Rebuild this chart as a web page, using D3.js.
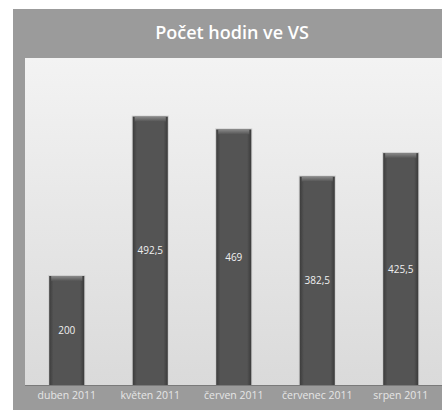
<!DOCTYPE html>
<meta charset="utf-8">
<style>
body { margin: 0; background: #fff; }
text { font-family: "Open Sans", "Liberation Sans", sans-serif; }
</style>
<svg width="442" height="410"></svg>
<script src="https://d3js.org/d3.v7.min.js"></script>
<script>

var months = ["duben 2011", "květen 2011", "červen 2011", "červenec 2011", "srpen 2011"];
var hours = [200, 492.5, 469, 382.5, 425.5];
var labels = ["200", "492,5", "469", "382,5", "425,5"];

var svg = d3.select("svg");

var plot = { left: 25, top: 58, right: 442.5, bottom: 385 };

var x = d3.scaleBand()
    .domain(months)
    .range([plot.left, plot.right])
    .paddingInner(0.58)
    .paddingOuter(0.29);

var y = d3.scaleLinear()
    .domain([0, 600])
    .range([plot.bottom, plot.top]);

var defs = svg.append("defs");

var bg = defs.append("linearGradient").attr("id", "bg")
    .attr("x1", 0).attr("y1", 0).attr("x2", 0).attr("y2", 1);
bg.append("stop").attr("offset", "0%").attr("stop-color", "#f3f3f3");
bg.append("stop").attr("offset", "100%").attr("stop-color", "#dadada");

var bar = defs.append("linearGradient").attr("id", "bar")
    .attr("x1", 0).attr("y1", 0).attr("x2", 1).attr("y2", 0);
bar.append("stop").attr("offset", "0%").attr("stop-color", "#3c3c3c");
bar.append("stop").attr("offset", "12%").attr("stop-color", "#545454");
bar.append("stop").attr("offset", "88%").attr("stop-color", "#545454");
bar.append("stop").attr("offset", "100%").attr("stop-color", "#3a3a3a");

var cap = defs.append("linearGradient").attr("id", "cap")
    .attr("x1", 0).attr("y1", 0).attr("x2", 0).attr("y2", 1);
cap.append("stop").attr("offset", "0%").attr("stop-color", "#8a8a8a");
cap.append("stop").attr("offset", "100%").attr("stop-color", "#545454");

// outer panel
svg.append("rect")
    .attr("x", 13).attr("y", 9)
    .attr("width", 442 - 13).attr("height", 410 - 9)
    .attr("fill", "#9b9b9b");

svg.append("text")
    .attr("x", 232).attr("y", 39)
    .attr("text-anchor", "middle")
    .attr("fill", "#fff")
    .attr("font-size", 18)
    .attr("font-weight", 600)
    .text("Počet hodin ve VS");

// plot area
svg.append("rect")
    .attr("x", plot.left).attr("y", plot.top)
    .attr("width", plot.right - plot.left).attr("height", plot.bottom - plot.top)
    .attr("fill", "url(#bg)");

svg.append("line")
    .attr("x1", plot.left).attr("x2", plot.right)
    .attr("y1", plot.bottom + 0.5).attr("y2", plot.bottom + 0.5)
    .attr("stroke", "#7a7a7a");

var g = svg.append("g")
  .selectAll("g")
  .data(hours)
  .enter().append("g");

g.append("rect")
    .attr("x", function(d, i) { return x(months[i]) - 1; })
    .attr("y", function(d) { return y(d) - 1; })
    .attr("width", x.bandwidth() + 2)
    .attr("height", function(d) { return y(0) - y(d) + 1; })
    .attr("fill", "#cfcfcf");

g.append("rect")
    .attr("x", function(d, i) { return x(months[i]); })
    .attr("y", function(d) { return y(d); })
    .attr("width", x.bandwidth())
    .attr("height", function(d) { return y(0) - y(d); })
    .attr("fill", "url(#bar)");

g.append("rect")
    .attr("x", function(d, i) { return x(months[i]) + 2; })
    .attr("y", function(d) { return y(d); })
    .attr("width", x.bandwidth() - 4)
    .attr("height", 5)
    .attr("fill", "url(#cap)");

g.append("text")
    .attr("x", function(d, i) { return x(months[i]) + x.bandwidth() / 2; })
    .attr("y", function(d) { return (y(d) + y(0)) / 2 + 3.5; })
    .attr("text-anchor", "middle")
    .attr("fill", "#f0f0f0")
    .attr("font-size", 10)
    .text(function(d, i) { return labels[i]; });

svg.append("g")
  .selectAll("text")
  .data(months)
  .enter().append("text")
    .attr("x", function(d) { return x(d) + x.bandwidth() / 2; })
    .attr("y", 398.5)
    .attr("text-anchor", "middle")
    .attr("fill", "#e6e6e6")
    .attr("font-size", 10.5)
    .text(function(d) { return d; });

</script>
